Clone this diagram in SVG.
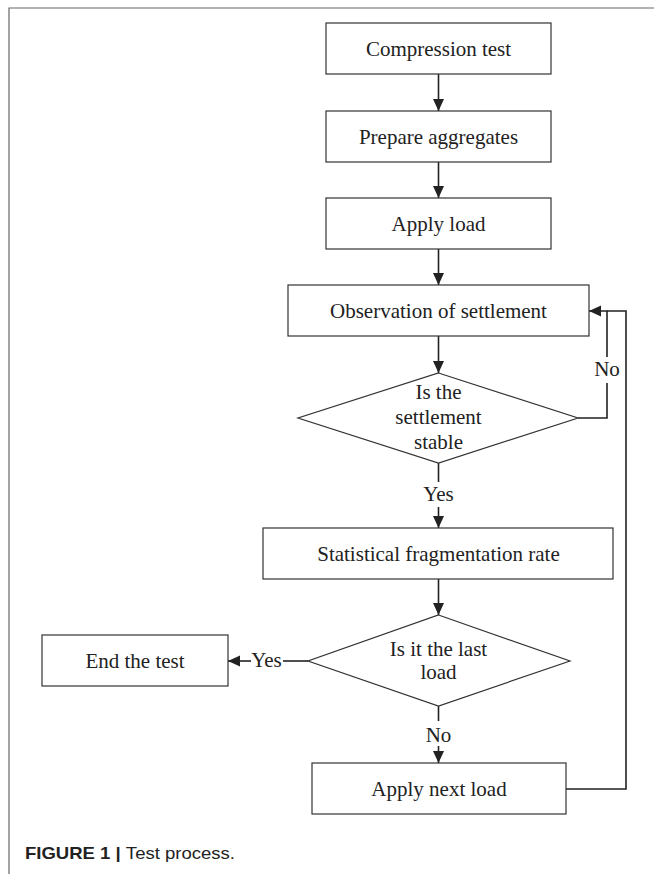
<svg xmlns="http://www.w3.org/2000/svg" width="654" height="874" viewBox="0 0 654 874">
<style>
.box{fill:#fff;stroke:#333;stroke-width:1.2}
.t{font-family:"Liberation Serif","Times New Roman",serif;font-size:21px;fill:#222;text-anchor:middle}
.c{fill:none;stroke:#222;stroke-width:1.6}
.frame{fill:none;stroke:#666;stroke-width:1.2}
.cap{font-family:"Liberation Sans",Arial,sans-serif;font-size:17px;fill:#222}
</style>
<defs>
<marker id="ah" markerUnits="userSpaceOnUse" markerWidth="12" markerHeight="12" refX="12" refY="6" orient="auto">
<path d="M0,0.5 L12,6 L0,11.5 z" fill="#222"/>
</marker>
</defs>
<rect width="654" height="874" fill="#fff"/>
<path class="frame" d="M654,8 H9 V874"/>

<g id="connectors">
<line class="c" x1="438.5" y1="74" x2="438.5" y2="111" marker-end="url(#ah)"/>
<line class="c" x1="438.5" y1="162" x2="438.5" y2="198" marker-end="url(#ah)"/>
<line class="c" x1="438.5" y1="249" x2="438.5" y2="285" marker-end="url(#ah)"/>
<line class="c" x1="438.5" y1="336" x2="438.5" y2="373" marker-end="url(#ah)"/>
<path class="c" d="M578,418 H607 V383"/>
<path class="c" d="M607,357 V311 H589" marker-end="url(#ah)"/>
<text class="t" x="607" y="376">No</text>
<line class="c" x1="438.5" y1="463" x2="438.5" y2="482"/>
<text class="t" x="438.5" y="501">Yes</text>
<line class="c" x1="438.5" y1="507" x2="438.5" y2="528" marker-end="url(#ah)"/>
<line class="c" x1="438.5" y1="579" x2="438.5" y2="615" marker-end="url(#ah)"/>
<line class="c" x1="308" y1="661" x2="283" y2="661"/>
<text class="t" x="266.5" y="667">Yes</text>
<line class="c" x1="251" y1="661" x2="228" y2="661" marker-end="url(#ah)"/>
<line class="c" x1="438.5" y1="706" x2="438.5" y2="721"/>
<text class="t" x="438.5" y="742">No</text>
<line class="c" x1="438.5" y1="746" x2="438.5" y2="763" marker-end="url(#ah)"/>
<path class="c" d="M566,789 H626 V311 H607"/>
</g>

<g id="n1"><rect class="box" x="326" y="23" width="225" height="51"/><text class="t" x="438.5" y="56">Compression test</text></g>
<g id="n2"><rect class="box" x="326" y="111" width="225" height="51"/><text class="t" x="438.5" y="144">Prepare aggregates</text></g>
<g id="n3"><rect class="box" x="326" y="198" width="225" height="51"/><text class="t" x="438.5" y="231">Apply load</text></g>
<g id="n4"><rect class="box" x="288" y="285" width="301" height="51"/><text class="t" x="438.5" y="318">Observation of settlement</text></g>
<g id="n5"><polygon class="box" points="438.5,373 578,418 438.5,463 298,418"/>
<text class="t" x="438.5" y="399">Is the</text><text class="t" x="438.5" y="424">settlement</text><text class="t" x="438.5" y="449">stable</text></g>
<g id="n6"><rect class="box" x="263" y="528" width="350" height="51"/><text class="t" x="438.5" y="561">Statistical fragmentation rate</text></g>
<g id="n7"><polygon class="box" points="438.5,615 570,661 438.5,706 308,661"/>
<text class="t" x="438.5" y="656">Is it the last</text><text class="t" x="438.5" y="679">load</text></g>
<g id="n8"><rect class="box" x="42" y="635" width="186" height="51"/><text class="t" x="135" y="668">End the test</text></g>
<g id="n9"><rect class="box" x="312" y="763" width="254" height="51"/><text class="t" x="439" y="796">Apply next load</text></g>

<text class="cap" x="25" y="859" textLength="210" lengthAdjust="spacingAndGlyphs"><tspan font-weight="bold">FIGURE 1 | </tspan>Test process.</text>
</svg>
